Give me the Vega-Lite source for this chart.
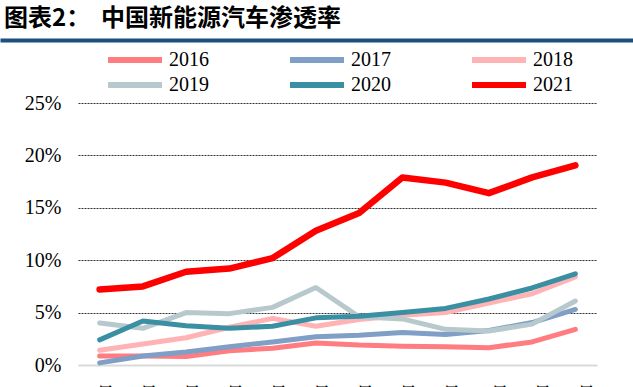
{
  "$schema": "https://vega.github.io/schema/vega-lite/v6.json",
  "autosize": {"type": "none"},
  "width": 519,
  "height": 262,
  "padding": {"left": 78, "top": 103, "right": 36, "bottom": 22},
  "background": "white",
  "title": {
    "text": "图表2：\u00a0\u00a0中国新能源汽车渗透率",
    "anchor": "start",
    "frame": "group",
    "dx": -74,
    "offset": 9,
    "font": "Noto Sans CJK SC",
    "fontSize": 24,
    "fontWeight": "bold",
    "color": "#000000"
  },
  "config": {"view": {"stroke": null}},
  "resolve": {"scale": {"x": "independent"}, "axis": {"x": "independent"}},
  "layer": [
    {
      "data": {
        "values": [
          {"month": "1月", "year": "2016", "value": 0.85},
          {"month": "2月", "year": "2016", "value": 0.85},
          {"month": "3月", "year": "2016", "value": 0.8},
          {"month": "4月", "year": "2016", "value": 1.35},
          {"month": "5月", "year": "2016", "value": 1.6},
          {"month": "6月", "year": "2016", "value": 2.1},
          {"month": "7月", "year": "2016", "value": 1.9},
          {"month": "8月", "year": "2016", "value": 1.8},
          {"month": "9月", "year": "2016", "value": 1.75},
          {"month": "10月", "year": "2016", "value": 1.65},
          {"month": "11月", "year": "2016", "value": 2.2},
          {"month": "12月", "year": "2016", "value": 3.4},
          {"month": "1月", "year": "2017", "value": 0.2},
          {"month": "2月", "year": "2017", "value": 0.85},
          {"month": "3月", "year": "2017", "value": 1.25},
          {"month": "4月", "year": "2017", "value": 1.75},
          {"month": "5月", "year": "2017", "value": 2.2},
          {"month": "6月", "year": "2017", "value": 2.7},
          {"month": "7月", "year": "2017", "value": 2.85},
          {"month": "8月", "year": "2017", "value": 3.1},
          {"month": "9月", "year": "2017", "value": 2.9},
          {"month": "10月", "year": "2017", "value": 3.3},
          {"month": "11月", "year": "2017", "value": 4.05},
          {"month": "12月", "year": "2017", "value": 5.3},
          {"month": "1月", "year": "2018", "value": 1.4},
          {"month": "2月", "year": "2018", "value": 2.0},
          {"month": "3月", "year": "2018", "value": 2.6},
          {"month": "4月", "year": "2018", "value": 3.6},
          {"month": "5月", "year": "2018", "value": 4.45},
          {"month": "6月", "year": "2018", "value": 3.7},
          {"month": "7月", "year": "2018", "value": 4.35},
          {"month": "8月", "year": "2018", "value": 4.75},
          {"month": "9月", "year": "2018", "value": 5.0},
          {"month": "10月", "year": "2018", "value": 5.9},
          {"month": "11月", "year": "2018", "value": 6.8},
          {"month": "12月", "year": "2018", "value": 8.4},
          {"month": "1月", "year": "2019", "value": 4.0},
          {"month": "2月", "year": "2019", "value": 3.5},
          {"month": "3月", "year": "2019", "value": 5.0},
          {"month": "4月", "year": "2019", "value": 4.9},
          {"month": "5月", "year": "2019", "value": 5.5},
          {"month": "6月", "year": "2019", "value": 7.4},
          {"month": "7月", "year": "2019", "value": 4.6},
          {"month": "8月", "year": "2019", "value": 4.4},
          {"month": "9月", "year": "2019", "value": 3.4},
          {"month": "10月", "year": "2019", "value": 3.25},
          {"month": "11月", "year": "2019", "value": 3.9},
          {"month": "12月", "year": "2019", "value": 6.1},
          {"month": "1月", "year": "2020", "value": 2.4},
          {"month": "2月", "year": "2020", "value": 4.2},
          {"month": "3月", "year": "2020", "value": 3.75},
          {"month": "4月", "year": "2020", "value": 3.5},
          {"month": "5月", "year": "2020", "value": 3.7},
          {"month": "6月", "year": "2020", "value": 4.5},
          {"month": "7月", "year": "2020", "value": 4.65},
          {"month": "8月", "year": "2020", "value": 5.0},
          {"month": "9月", "year": "2020", "value": 5.4},
          {"month": "10月", "year": "2020", "value": 6.3},
          {"month": "11月", "year": "2020", "value": 7.35},
          {"month": "12月", "year": "2020", "value": 8.7},
          {"month": "1月", "year": "2021", "value": 7.2},
          {"month": "2月", "year": "2021", "value": 7.5},
          {"month": "3月", "year": "2021", "value": 8.9},
          {"month": "4月", "year": "2021", "value": 9.2},
          {"month": "5月", "year": "2021", "value": 10.2},
          {"month": "6月", "year": "2021", "value": 12.8},
          {"month": "7月", "year": "2021", "value": 14.5},
          {"month": "8月", "year": "2021", "value": 17.9},
          {"month": "9月", "year": "2021", "value": 17.4},
          {"month": "10月", "year": "2021", "value": 16.4},
          {"month": "11月", "year": "2021", "value": 17.9},
          {"month": "12月", "year": "2021", "value": 19.05}
        ]
      },
      "mark": {"type": "line", "strokeCap": "round", "strokeJoin": "round"},
      "encoding": {
        "x": {
          "field": "month",
          "type": "ordinal",
          "sort": ["1月", "2月", "3月", "4月", "5月", "6月", "7月", "8月", "9月", "10月", "11月", "12月"],
          "scale": {"type": "point", "padding": 0.5},
          "axis": {
            "title": null,
            "labelAngle": 0,
            "ticks": false,
            "grid": false,
            "domain": true,
            "domainColor": "#d9d9d9",
            "domainWidth": 2,
            "labelFont": "Times New Roman, Liberation Serif, Noto Serif CJK SC, Noto Sans CJK SC, serif",
            "labelFontSize": 20,
            "labelColor": "#000000",
            "labelPadding": 20
          }
        },
        "y": {
          "field": "value",
          "type": "quantitative",
          "scale": {"domain": [0, 25]},
          "axis": {
            "title": null,
            "values": [0, 5, 10, 15, 20, 25],
            "labelExpr": "datum.value + '%'",
            "ticks": false,
            "domain": false,
            "grid": true,
            "gridColor": "#333333",
            "gridWidth": 1,
            "gridDash": [2, 1],
            "gridOpacity": {"condition": {"test": "datum.value === 0", "value": 0}, "value": 1},
            "labelFont": "Times New Roman, Liberation Serif, serif",
            "labelFontSize": 20,
            "labelColor": "#000000",
            "labelPadding": 17
          }
        },
        "color": {
          "field": "year",
          "type": "nominal",
          "scale": {
            "domain": ["2016", "2017", "2018", "2019", "2020", "2021"],
            "range": ["#ff7c80", "#7f9fc6", "#ffb3b5", "#b7c9cd", "#3b8fa3", "#ff0000"]
          },
          "legend": {
            "title": null,
            "orient": "none",
            "legendX": 44,
            "legendY": -56,
            "direction": "horizontal",
            "columns": 3,
            "symbolType": "M-2.7,0H2.7",
            "symbolSize": 400,
            "symbolStrokeWidth": 6,
            "labelFont": "Times New Roman, Liberation Serif, serif",
            "labelFontSize": 20,
            "labelColor": "#000000",
            "labelOffset": 21,
            "columnPadding": 69,
            "rowPadding": -9,
            "labelLimit": 0
          }
        },
        "strokeWidth": {"condition": {"test": "datum.year === '2021'", "value": 6.5}, "value": 5}
      }
    },
    {
      "data": {"values": []},
      "mark": {"type": "rule"},
      "encoding": {
        "x": {
          "field": "u",
          "type": "quantitative",
          "scale": {"domain": [0, 1], "range": [-78, 555]},
          "axis": {
            "orient": "top",
            "offset": 63,
            "title": null,
            "ticks": false,
            "labels": false,
            "grid": false,
            "domainColor": "#1b4f7e",
            "domainWidth": 4
          }
        }
      }
    }
  ]
}
